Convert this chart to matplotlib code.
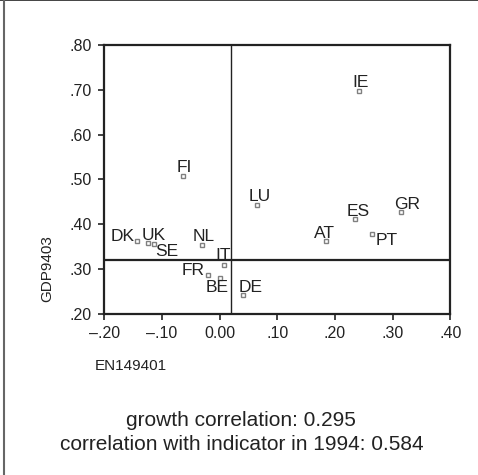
import numpy as np
import matplotlib.pyplot as plt
from matplotlib.lines import Line2D

plt.rcParams['font.family'] = ['Liberation Sans', 'DejaVu Sans']

countries = ["FI", "LU", "IE", "ES", "GR", "AT", "PT", "DE",
             "DK", "UK", "SE", "NL", "IT", "FR", "BE"]
en149401 = [-0.063, 0.065, 0.242, 0.235, 0.315, 0.184, 0.265, 0.041,
            -0.143, -0.124, -0.113, -0.030, 0.008, -0.021, 0.000]
gdp9403 = [0.507, 0.442, 0.698, 0.412, 0.427, 0.363, 0.378, 0.242,
           0.363, 0.357, 0.356, 0.353, 0.309, 0.287, 0.280]
mean_x = 0.019
mean_y = 0.319

xticks = [-0.2, -0.1, 0.0, 0.1, 0.2, 0.3, 0.4]
xticklabels = ["\u2013.20", "\u2013.10", "0.00", ".10", ".20", ".30", ".40"]
yticks = [0.2, 0.3, 0.4, 0.5, 0.6, 0.7, 0.8]
yticklabels = [".20", ".30", ".40", ".50", ".60", ".70", ".80"]

# label placement in pixels: (dx, dy, ha)
offsets = {
    "FI": (-7, 4, "left"), "LU": (-8, 4, "left"), "IE": (-7, 4, "left"),
    "ES": (-9, 3, "left"), "GR": (-7, 3, "left"), "AT": (-12, 3, "left"),
    "PT": (3, -11, "left"), "DE": (-5, 3, "left"), "DK": (-3, 0, "right"),
    "UK": (-6, 3, "left"), "SE": (1, -12, "left"), "NL": (-10, 4, "left"),
    "IT": (-9, 5, "left"), "FR": (-3, 0, "right"), "BE": (-14, -14, "left"),
}

fig = plt.figure(figsize=(4.78, 4.75), dpi=100)
ax = fig.add_axes([0.2182, 0.3394, 0.7238, 0.5659])

ax.axvline(mean_x, color="#222222", lw=1.0)
ax.axhline(mean_y, color="#222222", lw=1.6)
ax.plot(en149401, gdp9403, "s", ms=3.2, mfc="white", mec="#808080", mew=1.0)

for c, x, y in zip(countries, en149401, gdp9403):
    dx, dy, ha = offsets[c]
    ax.annotate(c, (x, y), xytext=(dx, dy), textcoords="offset pixels",
                ha=ha, va="baseline", fontsize=12.5, color="#222222")

ax.set_xlim(-0.2, 0.4)
ax.set_ylim(0.2, 0.8)
ax.set_xticks(xticks)
ax.set_xticklabels(xticklabels)
ax.set_yticks(yticks)
ax.set_yticklabels(yticklabels)
ax.tick_params(labelsize=11.5, length=4, width=1.2, colors="#222222", pad=5)
for s in ax.spines.values():
    s.set_linewidth(1.6)
    s.set_color("#222222")

ax.set_xlabel("EN149401", fontsize=11, color="#222222")
ax.xaxis.label.set_va("center")
ax.xaxis.set_label_coords(0.0757, -0.194)
ax.set_ylabel("GDP9403", fontsize=11, color="#222222")
ax.yaxis.label.set_va("center")
ax.yaxis.set_label_coords(-0.1656, 0.170)

fig.text(0.505, 1 - 421 / 475, "growth correlation: 0.295", ha="center",
         va="center", fontsize=15, color="#222222")
fig.text(0.505, 1 - 444 / 475, "correlation with indicator in 1994: 0.584",
         ha="center", va="center", fontsize=15, color="#222222")

# page border pieces
fig.add_artist(Line2D([0, 1], [0.999, 0.999], color="#222222", lw=1.2))
fig.add_artist(Line2D([3.5 / 478, 3.5 / 478], [0, 1], color="#666666", lw=1.5))

fig.savefig("out.png", dpi=100)
